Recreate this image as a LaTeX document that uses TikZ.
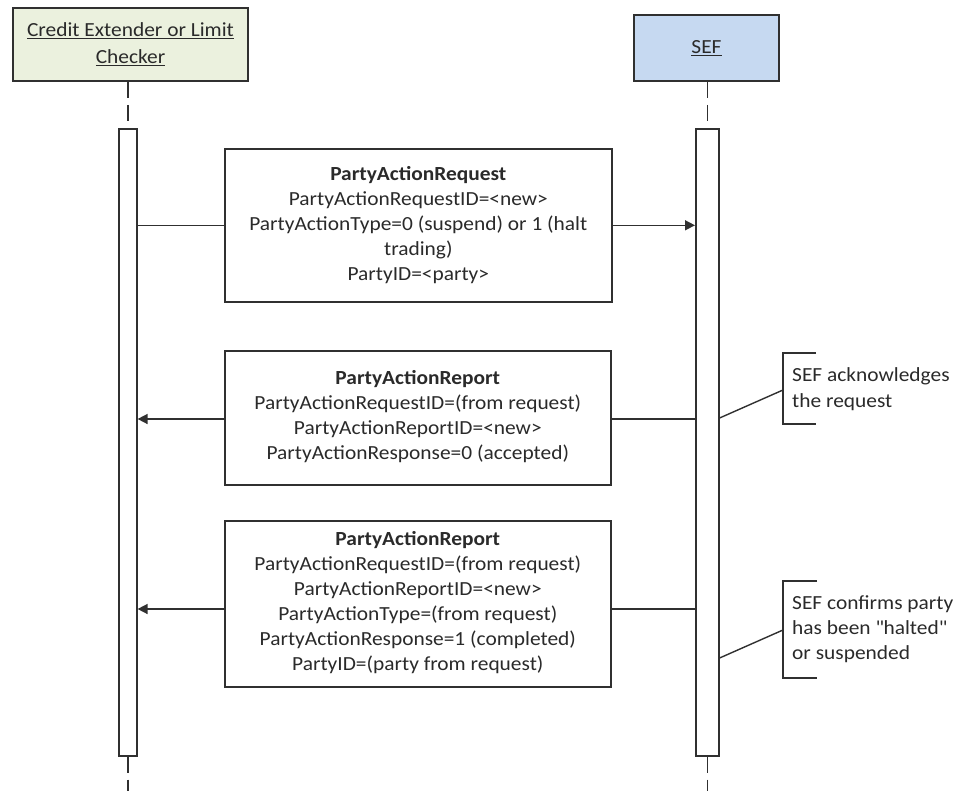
\documentclass[tikz,border=0pt]{standalone}
\usepackage{fontspec}
\setmainfont{Carlito}[FakeStretch=1.07]
\usetikzlibrary{arrows.meta}
\definecolor{hdrgreen}{HTML}{EBF1DE}
\definecolor{hdrblue}{HTML}{C6D9F1}
\definecolor{ink}{HTML}{2A2A2A}
\definecolor{edge}{HTML}{303030}
\begin{document}
\begin{tikzpicture}[x=1pt,y=-1pt,
  font=\fontsize{20}{25}\selectfont,
  every node/.style={text=ink},
  header/.style={draw=edge,line width=2pt,minimum height=73pt,inner sep=0pt,align=center,anchor=north west},
  bar/.style={draw=edge,line width=1.6pt,fill=white,inner sep=0pt,anchor=north west},
  msgbox/.style={draw=edge,line width=1.6pt,fill=white,inner sep=0pt,align=center,anchor=north west},
  lifeline/.style={draw=edge,line width=1.6pt,dash pattern=on 16pt off 7pt},
  msg/.style={draw=edge,line width=1.5pt},
  msgarrow/.style={msg,-{Triangle[length=10pt,width=10pt]}},
  note/.style={draw=edge,line width=1.4pt},
  notetext/.style={anchor=west,align=left,inner sep=0pt}
]
\useasboundingbox (0,0) rectangle (955,791);

% participants
\node[header,fill=hdrgreen,minimum width=235pt] (pA) at (12,7)
  {\underline{Credit Extender or Limit}\\[2pt]\underline{Checker}};
\node[header,fill=hdrblue,minimum width=145pt,minimum height=66pt] (pB) at (633,14)
  {\underline{SEF}};

% activation bars
\node[bar,minimum width=18pt,minimum height=627pt] (barA) at (118,128) {};
\node[bar,minimum width=23pt,minimum height=627pt] (barB) at (695,128) {};

% lifelines
\coordinate (endA) at (127,791);
\coordinate (endB) at (706.5,791);
\draw[lifeline] (pA.south -| barA.north) -- (barA.north);
\draw[lifeline] (pB.south -| barB.north) -- (barB.north);
\draw[lifeline] (barA.south) -- (barA.south |- endA);
\draw[lifeline] (barB.south) -- (barB.south |- endB);

% messages
\node[msgbox,minimum width=387pt,minimum height=153pt] (m1) at (224,148) {};
\node[align=center,inner sep=0pt] (t1) at (m1.center)
  {\textbf{PartyActionRequest}\\PartyActionRequestID=<new>\\PartyActionType=0 (suspend) or 1 (halt\\trading)\\PartyID=<party>};
\draw[msg] (barA.east |- m1.west) -- (m1.west);
\draw[msgarrow] (m1.east) -- (barB.west |- m1.east);

\node[msgbox,minimum width=386pt,minimum height=134pt] (m2) at (224,350) {};
\node[align=center,inner sep=0pt] (t2) at ([yshift=1pt]m2.center)
  {\textbf{PartyActionReport}\\PartyActionRequestID=(from request)\\PartyActionReportID=<new>\\PartyActionResponse=0 (accepted)};
\coordinate (y2) at (0,419);
\draw[msg] (barB.west |- y2) -- (m2.east |- y2);
\draw[msgarrow] (m2.west |- y2) -- (barA.east |- y2);

\node[msgbox,minimum width=386pt,minimum height=166pt] (m3) at (224,520) {};
\node[align=center,inner sep=0pt] (t3) at ([yshift=1pt]m3.center)
  {\textbf{PartyActionReport}\\PartyActionRequestID=(from request)\\PartyActionReportID=<new>\\PartyActionType=(from request)\\PartyActionResponse=1 (completed)\\PartyID=(party from request)};
\coordinate (y3) at (0,609);
\draw[msg] (barB.west |- y3) -- (m3.east |- y3);
\draw[msgarrow] (m3.west |- y3) -- (barA.east |- y3);

% notes
\coordinate (n1top) at (783,353);
\coordinate (n1bot) at (783,424);
\coordinate (n1tip) at (783,390);
\coordinate (n1src) at (0,418);
\draw[note] (816,353) -- (n1top) -- (n1bot) -- (816,424);
\draw[note] (barB.east |- n1src) -- (n1tip);
\node[notetext] (n1) at (792,389) {SEF acknowledges\\[1pt]the request};

\coordinate (n2top) at (783,581);
\coordinate (n2bot) at (783,678);
\coordinate (n2tip) at (783,630);
\coordinate (n2src) at (0,658);
\draw[note] (817,581) -- (n2top) -- (n2bot) -- (817,678);
\draw[note] (barB.east |- n2src) -- (n2tip);
\node[notetext] (n2) at (792,629) {SEF confirms party\\has been \textquotedbl halted\textquotedbl\\or suspended};
\end{tikzpicture}
\end{document}
